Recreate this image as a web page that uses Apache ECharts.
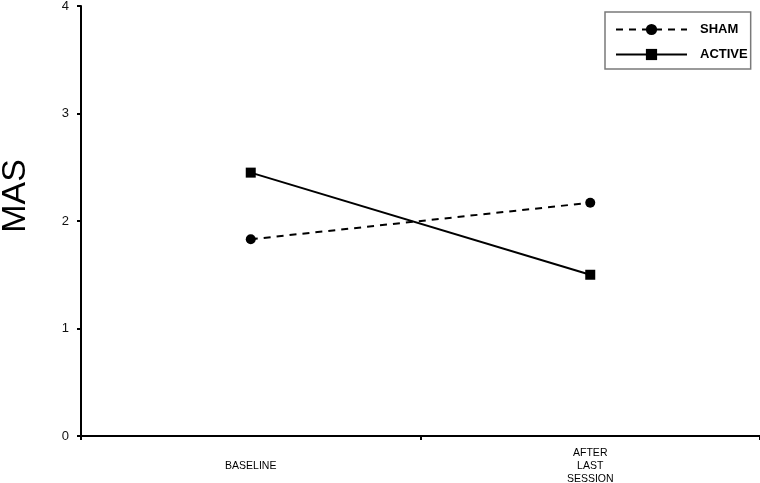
<!DOCTYPE html>
<html>
<head>
<meta charset="utf-8">
<script src="https://cdn.jsdelivr.net/npm/echarts@6/dist/echarts.min.js"></script>
<style>
  html, body { margin: 0; padding: 0; background: #fff; }
  #chart { width: 760px; height: 483px; }
</style>
</head>
<body>
<div id="chart"></div>
<script>
// categories along the x axis
var categories = ['BASELINE', 'AFTER\nLAST\nSESSION'];
// MAS means
var shamValues = [1.83, 2.17];
var activeValues = [2.45, 1.50];

var chart = echarts.init(document.getElementById('chart'));

var font = 'Arial, "Liberation Sans", sans-serif';

chart.setOption({
    animation: false,
    backgroundColor: '#fff',
    grid: {
        left: 81,
        right: 0,
        top: 6,
        bottom: 47,
        containLabel: false,
        outerBoundsMode: 'none'
    },
    legend: {
        orient: 'vertical',
        left: 605,
        top: 12,
        padding: [11, 3, 8, 10],
        itemGap: 12,
        itemWidth: 71,
        itemHeight: 14,
        borderColor: '#7a7a7a',
        borderWidth: 1.5,
        textStyle: {
            fontFamily: font,
            fontWeight: 'bold',
            fontSize: 13,
            color: '#000',
            padding: [0, 0, 0, 8]
        },
        data: ['SHAM', 'ACTIVE']
    },
    xAxis: {
        type: 'category',
        data: categories,
        boundaryGap: true,
        axisLine: { lineStyle: { color: '#000', width: 2 } },
        axisTick: { show: true, interval: 0, length: 4, lineStyle: { color: '#000', width: 2 } },
        axisLabel: {
            fontFamily: font,
            fontSize: 10.5,
            color: '#000',
            lineHeight: 13,
            verticalAlign: 'middle',
            margin: 30,
            interval: 0
        }
    },
    yAxis: {
        type: 'value',
        min: 0,
        max: 4,
        interval: 1,
        name: 'MAS',
        nameLocation: 'middle',
        nameGap: 48,
        nameTextStyle: {
            fontFamily: font,
            fontSize: 34,
            color: '#000',
            padding: [0, 0, 0, 50]
        },
        splitLine: { show: false },
        axisLine: { show: true, lineStyle: { color: '#000', width: 2 } },
        axisTick: { show: true, length: 4, lineStyle: { color: '#000', width: 2 } },
        axisLabel: {
            fontFamily: font,
            fontSize: 13,
            color: '#111',
            margin: 12
        }
    },
    series: [
        {
            name: 'SHAM',
            type: 'line',
            data: shamValues,
            symbol: 'circle',
            symbolSize: 10,
            itemStyle: { color: '#000' },
            lineStyle: { color: '#000', width: 2, type: [7, 6] }
        },
        {
            name: 'ACTIVE',
            type: 'line',
            data: activeValues,
            symbol: 'rect',
            symbolSize: 10,
            itemStyle: { color: '#000' },
            lineStyle: { color: '#000', width: 2, type: 'solid' }
        }
    ]
});
</script>
</body>
</html>
